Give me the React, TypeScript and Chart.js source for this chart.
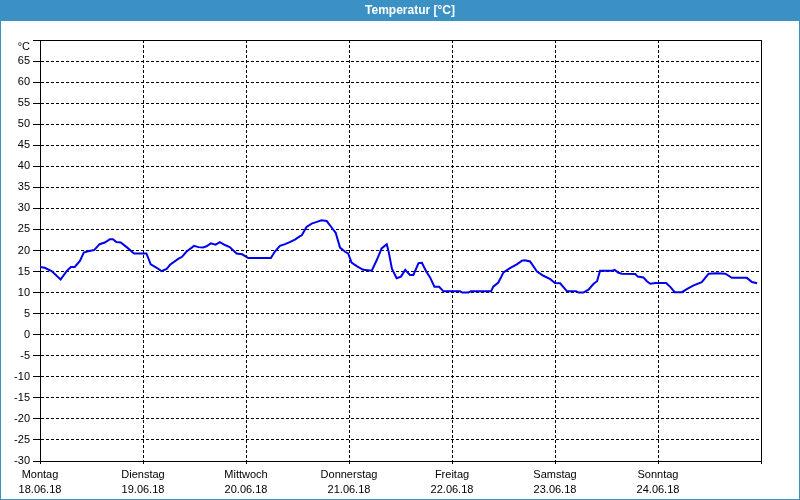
import React, { useEffect, useRef } from "react";
import { Chart, registerables } from "chart.js";

Chart.register(...registerables);

const dayNames = ["Montag", "Dienstag", "Mittwoch", "Donnerstag", "Freitag", "Samstag", "Sonntag"];
const dayDates = ["18.06.18", "19.06.18", "20.06.18", "21.06.18", "22.06.18", "23.06.18", "24.06.18"];

// hours since Monday 00:00
const hours = [
  0, 1.1, 2.7, 4.8, 6.2, 7.2, 8.1, 9.3, 10.2, 11.2,
  12.6, 13.9, 15.1, 16.3, 17.0, 17.8, 18.8, 20.2, 21.9, 24.8,
  25.8, 27.2, 28.3, 29.5, 30.3, 32.2, 33.1, 34.1, 35.9, 36.9,
  38.0, 38.8, 39.8, 40.9, 41.9, 43.1, 44.2, 45.8, 47.1, 48.1,
  48.5, 53.8, 54.7, 55.9, 57.1, 58.2, 59.4, 60.6, 61.0, 62.1,
  63.3, 64.5, 65.6, 66.8, 68.0, 68.9, 69.9, 71.1, 71.8, 72.6,
  73.8, 75.3, 77.3, 78.5, 79.6, 80.8, 81.2, 82.0, 83.1, 84.1,
  85.1, 86.2, 87.0, 88.2, 89.0, 90.0, 90.9, 91.9, 93.0, 94.0,
  97.9, 98.4, 99.8, 100.4, 105.1, 105.6, 106.8, 108.0, 109.5, 111.1,
  112.3, 113.0, 114.2, 115.8, 117.3, 118.9, 120.0, 121.2, 122.8, 124.9,
  125.5, 126.6, 127.8, 129.0, 129.8, 130.5, 133.4, 133.9, 134.8, 135.6,
  138.7, 139.3, 140.6, 141.4, 142.2, 143.4, 145.9, 146.9, 147.9, 149.6,
  150.8, 152.3, 154.2, 155.8, 157.7, 159.7, 161.2, 164.7, 165.9, 167.1,
];

const temps = [
  16.1, 15.9, 15.1, 13.1, 15.1, 16.1, 16.1, 17.5, 19.5, 19.8,
  20.1, 21.5, 21.9, 22.7, 22.7, 22.0, 21.9, 20.8, 19.3, 19.3,
  16.7, 15.9, 15.1, 15.6, 16.6, 18.0, 18.5, 19.7, 21.1, 20.8,
  20.7, 21.0, 21.7, 21.4, 22.0, 21.3, 20.8, 19.3, 19.1, 18.5,
  18.2, 18.2, 19.7, 21.1, 21.5, 22.0, 22.6, 23.4, 23.6, 25.6,
  26.4, 26.8, 27.2, 27.0, 25.4, 24.2, 20.7, 19.7, 19.3, 17.1,
  16.3, 15.4, 15.2, 17.8, 20.5, 21.5, 19.9, 15.7, 13.4, 13.8,
  15.4, 14.2, 14.2, 17.0, 17.1, 15.0, 13.6, 11.4, 11.4, 10.3,
  10.3, 10.0, 10.0, 10.3, 10.3, 11.4, 12.4, 14.8, 15.8, 16.7,
  17.6, 17.7, 17.4, 15.0, 14.0, 13.2, 12.3, 12.2, 10.3, 10.3,
  10.0, 10.0, 10.7, 12.1, 12.7, 15.2, 15.2, 15.4, 14.7, 14.5,
  14.4, 13.8, 13.6, 12.7, 12.1, 12.3, 12.3, 11.3, 10.1, 10.1,
  10.9, 11.7, 12.5, 14.5, 14.6, 14.5, 13.5, 13.5, 12.5, 12.2,
];

const yMin = -30;
const yMax = 70;
const yStep = 5;
const unitLabel = "°C";
const titleText = "Temperatur [°C]";

const FONT = "'Liberation Sans', Arial, sans-serif";
const BLUE = "#3c91c4";

const framePlugin = {
  id: "frame",
  beforeDraw(chart: any) {
    const { ctx, width, height } = chart;
    ctx.save();
    ctx.fillStyle = "#ffffff";
    ctx.fillRect(0, 0, width, height);
    ctx.fillStyle = BLUE;
    ctx.fillRect(0, 0, width, 21);
    ctx.fillStyle = "#ffffff";
    ctx.font = "bold 12px " + FONT;
    ctx.textAlign = "center";
    ctx.textBaseline = "middle";
    ctx.fillText(titleText, 410, 11);
    ctx.restore();
  },
  afterDraw(chart: any) {
    const { ctx, width, height, chartArea } = chart;
    ctx.save();
    ctx.strokeStyle = "#000";
    ctx.lineWidth = 1;
    ctx.setLineDash([]);
    ctx.beginPath();
    const l = Math.round(chartArea.left) + 0.5;
    const r = Math.round(chartArea.right) + 0.5;
    const t = Math.round(chartArea.top) + 0.5;
    const b = Math.round(chartArea.bottom) + 0.5;
    ctx.moveTo(l, t);
    ctx.lineTo(r, t);
    ctx.lineTo(r, b);
    ctx.stroke();
    ctx.strokeStyle = BLUE;
    ctx.strokeRect(0.5, 0.5, width - 1, height - 1);
    ctx.restore();
  },
};

export default function App() {
  const ref = useRef<HTMLCanvasElement | null>(null);

  useEffect(() => {
    if (!ref.current) return;
    const points = hours.map((h, i) => ({ x: h, y: temps[i] }));
    const chart = new Chart(ref.current, {
      type: "line",
      data: {
        datasets: [
          {
            data: points,
            borderColor: "#0000ee",
            borderWidth: 2,
            pointRadius: 0,
            tension: 0,
            fill: false,
          },
        ],
      },
      options: {
        animation: false,
        responsive: false,
        devicePixelRatio: 1,
        layout: { padding: { top: 40, right: 39, left: 0, bottom: 0 } },
        plugins: {
          legend: { display: false },
          title: { display: false },
          tooltip: { enabled: false },
        },
        scales: {
          x: {
            type: "linear",
            min: 0,
            max: 168,
            afterFit(scale: any) {
              scale.height = 39;
            },
            afterBuildTicks(scale: any) {
              scale.ticks = dayNames.map((_, i) => ({ value: i * 24 })).concat([{ value: 168 }]);
            },
            ticks: {
              autoSkip: false,
              maxRotation: 0,
              color: "#000",
              padding: 4,
              font: { family: FONT, size: 11, lineHeight: 1.35 },
              callback: (v: any) => {
                const i = Math.round(Number(v) / 24);
                if (i >= dayNames.length) return "";
                return [dayNames[i], dayDates[i]];
              },
            },
            grid: {
              color: "#000",
              lineWidth: 1,
              tickLength: 3,
              tickColor: "#000",
            },
            border: { display: true, color: "#000", width: 1, dash: [3, 2] },
          },
          y: {
            min: yMin,
            max: yMax,
            afterFit(scale: any) {
              scale.width = 40;
            },
            ticks: {
              stepSize: yStep,
              autoSkip: false,
              color: "#000",
              padding: 3,
              font: { family: FONT, size: 11 },
              callback: (v: any) => (Number(v) === yMax ? ["", unitLabel] : String(v)),
            },
            grid: {
              color: "#000",
              lineWidth: 1,
              tickLength: 7,
              tickColor: "#000",
            },
            border: { display: true, color: "#000", width: 1, dash: [3, 2] },
          },
        },
      } as any,
      plugins: [framePlugin],
    });
    return () => chart.destroy();
  }, []);

  return (
    <div style={{ position: "fixed", left: 0, top: 0, width: 800, height: 500 }}>
      <canvas ref={ref} width={800} height={500} style={{ display: "block" }} />
    </div>
  );
}
